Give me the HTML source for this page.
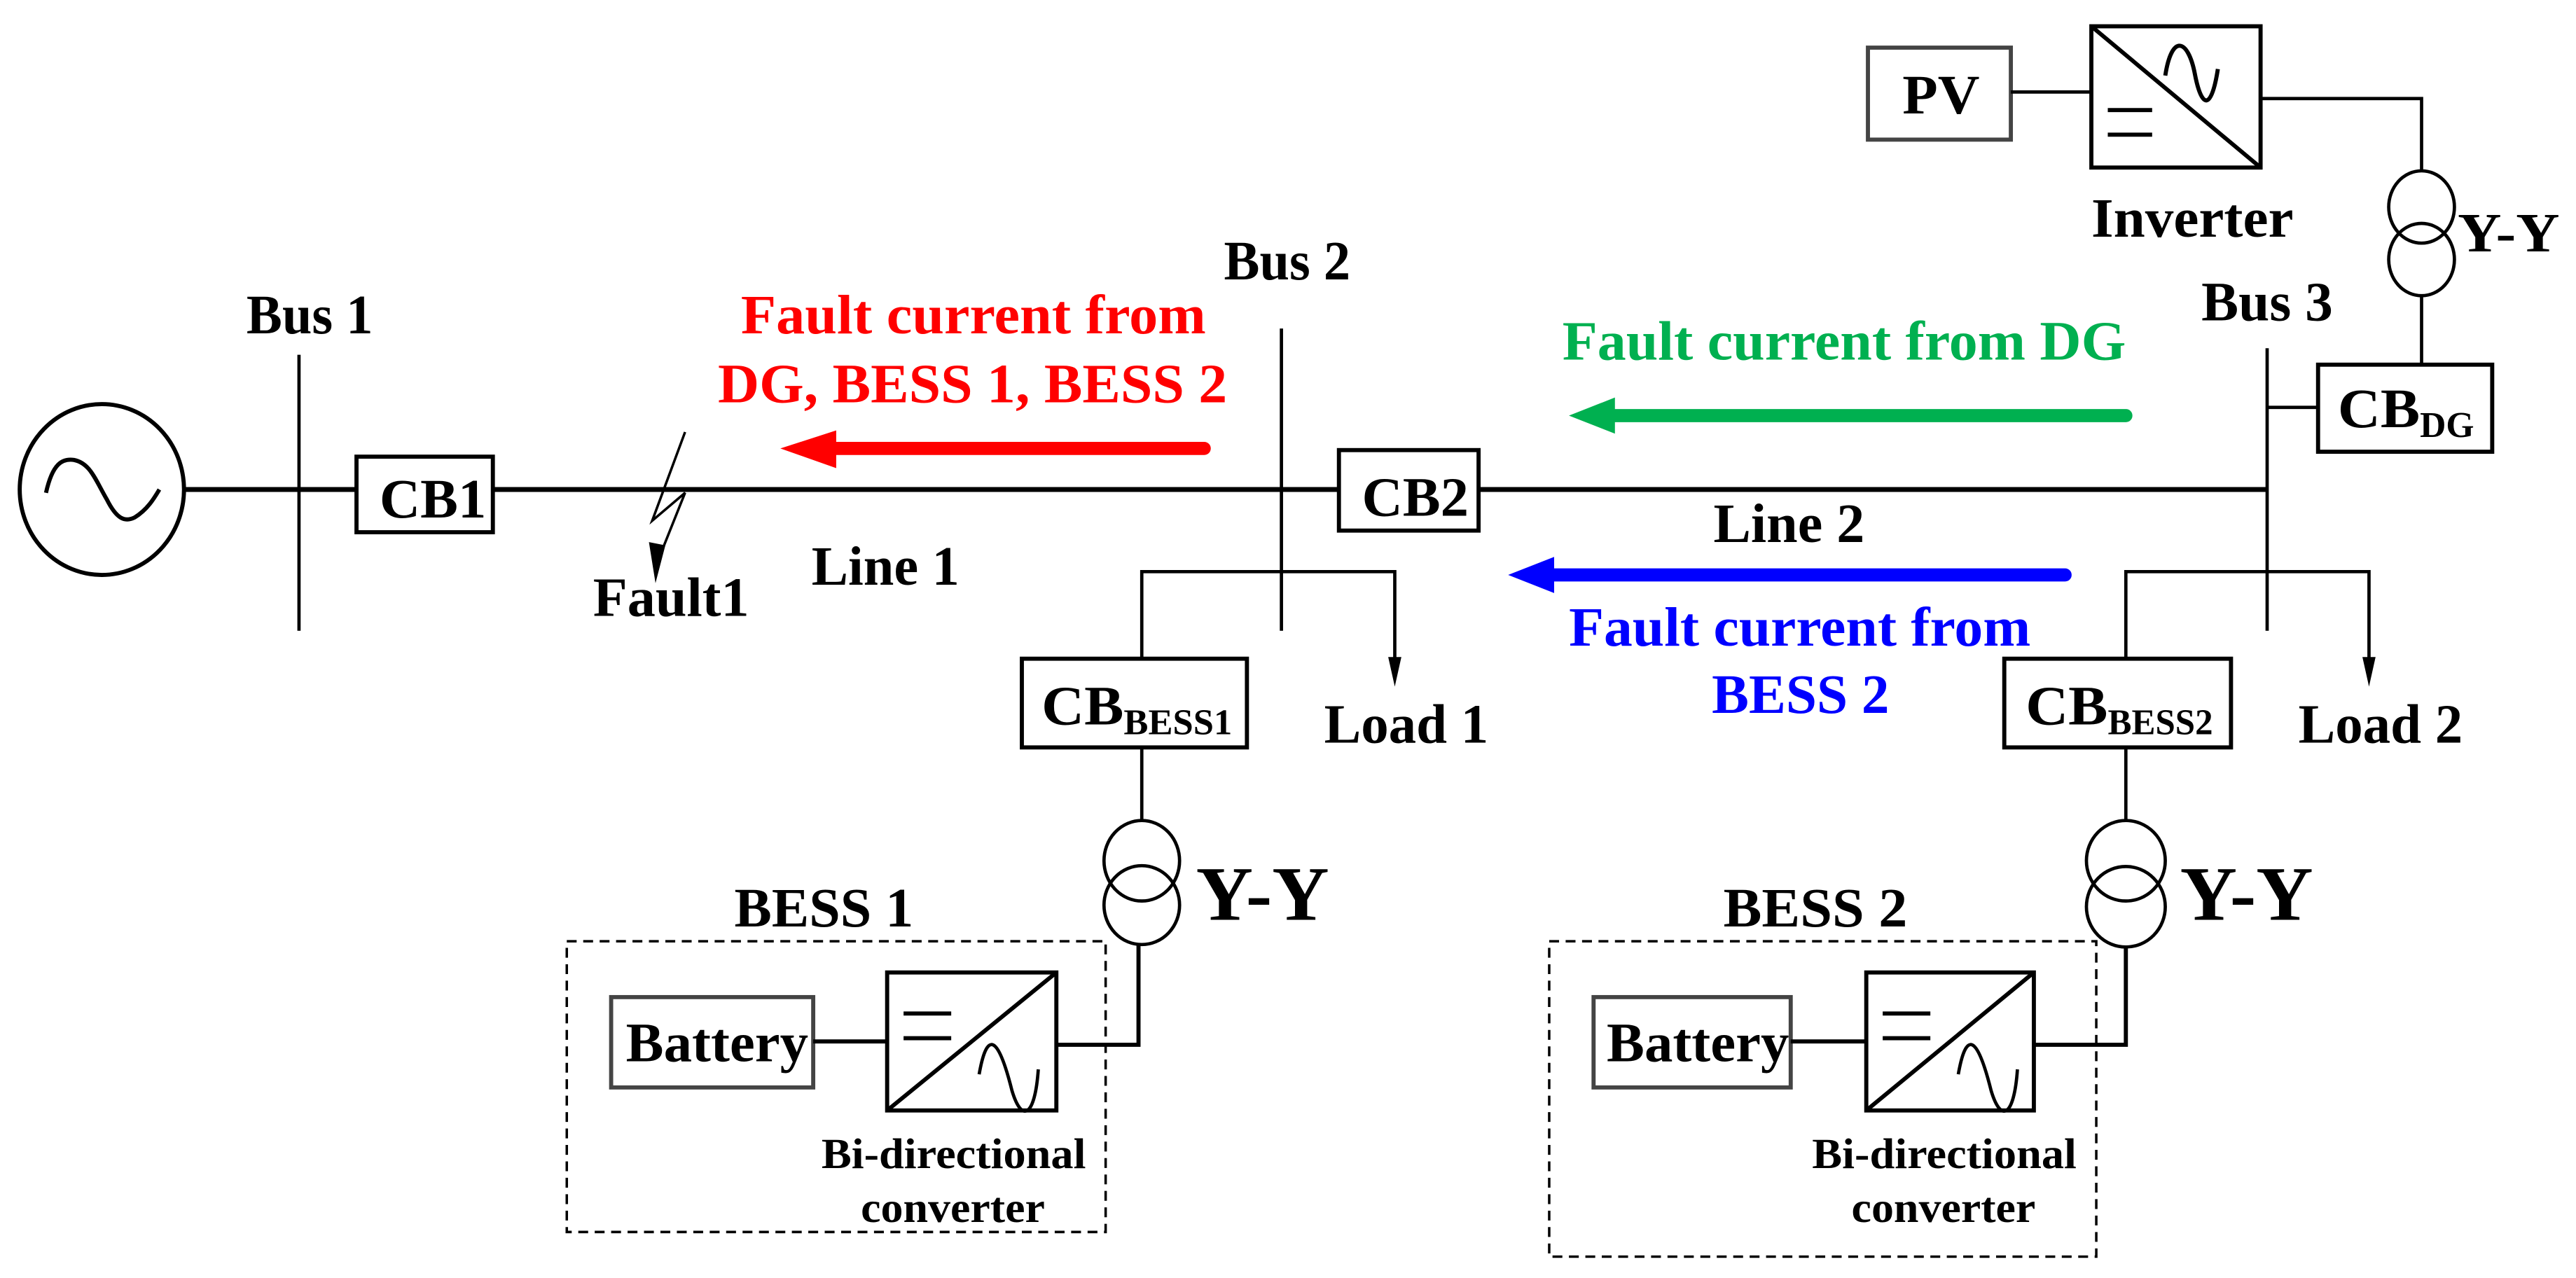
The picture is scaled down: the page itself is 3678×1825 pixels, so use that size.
<!DOCTYPE html>
<html><head><meta charset="utf-8"><style>
html,body{margin:0;padding:0;background:#fff;}
svg{display:block;}
text{font-family:"Liberation Serif",serif;font-weight:bold;}
</style></head><body>
<svg width="3678" height="1825" viewBox="0 0 1568 778" preserveAspectRatio="none" xmlns="http://www.w3.org/2000/svg">
<g fill="none" stroke="#000">
<!-- generator -->
<ellipse cx="62" cy="298" rx="50" ry="52" stroke-width="2.5"/>
<path d="M28,300 C32,282 38,279 45,280 C55,282 58,292 65,304 C71,316 76,318 82,315 C90,310 94,303 97,298" stroke-width="2.5"/>
<!-- main line -->
<line x1="112" y1="298" x2="217" y2="298" stroke-width="3"/>
<line x1="300" y1="298" x2="815" y2="298" stroke-width="3"/>
<line x1="900" y1="298" x2="1380" y2="298" stroke-width="3"/>
<!-- buses -->
<line x1="182" y1="216" x2="182" y2="384" stroke-width="2"/>
<line x1="780" y1="200" x2="780" y2="384" stroke-width="2"/>
<line x1="1380" y1="212" x2="1380" y2="384" stroke-width="2"/>
<!-- CB boxes -->
<rect x="217" y="278" width="83" height="46" stroke-width="2.5"/>
<rect x="815" y="274" width="85" height="49" stroke-width="2.5"/>
<rect x="1411" y="222" width="106" height="53" stroke-width="2.5"/>
<rect x="622" y="401" width="137" height="54" stroke-width="2.5"/>
<rect x="1220" y="401" width="138" height="54" stroke-width="2.5"/>
<!-- fault -->
<polyline points="417,263 397,317 417,300 401,340" stroke-width="1.5"/>
<!-- bus2/bus3 branches -->
<polyline points="695,401 695,348 849,348 849,405" stroke-width="2"/>
<polyline points="1294,401 1294,348 1442,348 1442,405" stroke-width="2"/>
<!-- CB_DG to bus3 -->
<line x1="1380" y1="248" x2="1411" y2="248" stroke-width="2"/>
<polyline points="1474,222 1474,180" stroke-width="2"/>
<polyline points="1474,104 1474,60 1376,60" stroke-width="2"/>
<!-- PV transformer -->
<ellipse cx="1474" cy="126" rx="20" ry="22" stroke-width="2"/>
<ellipse cx="1474" cy="158" rx="20" ry="22" stroke-width="2"/>
<!-- PV & inverter -->
<rect x="1137" y="29" width="87" height="56" stroke="#444" stroke-width="2.5"/>
<line x1="1224" y1="56" x2="1273" y2="56" stroke-width="2"/>
<rect x="1273" y="16" width="103" height="86" stroke-width="2.5"/>
<line x1="1273" y1="16" x2="1376" y2="102" stroke-width="2.5"/>
<path d="M1318,46 C1322,20 1332,24 1336,45 C1340,66 1346,68 1350,42" stroke-width="2.5"/>
<line x1="1283" y1="67" x2="1310" y2="67" stroke-width="2.5"/>
<line x1="1283" y1="82" x2="1310" y2="82" stroke-width="2.5"/>
<!-- BESS1 -->
<line x1="695" y1="455" x2="695" y2="500" stroke-width="2"/>
<ellipse cx="695" cy="524" rx="23" ry="24.5" stroke-width="2"/>
<ellipse cx="695" cy="551" rx="23" ry="24" stroke-width="2"/>
<polyline points="693,575 693,636 643,636" stroke-width="2.5"/>
<rect x="345" y="573" width="328" height="177" stroke-width="1.5" stroke-dasharray="6,4"/>
<rect x="372" y="607" width="123" height="55" stroke="#444" stroke-width="2.5"/>
<line x1="495" y1="634" x2="540" y2="634" stroke-width="2.5"/>
<rect x="540" y="592" width="103" height="84" stroke-width="2.5"/>
<line x1="540" y1="676" x2="643" y2="592" stroke-width="2.5"/>
<line x1="550" y1="617" x2="579" y2="617" stroke-width="2.5"/>
<line x1="550" y1="632" x2="579" y2="632" stroke-width="2.5"/>
<path d="M596,654 C602,620 610,640 616,664 C622,684 630,680 632,651" stroke-width="2"/>
<!-- BESS2 -->
<line x1="1294" y1="455" x2="1294" y2="500" stroke-width="2"/>
<ellipse cx="1294" cy="524" rx="24" ry="24.5" stroke-width="2"/>
<ellipse cx="1294" cy="552" rx="24" ry="24.5" stroke-width="2"/>
<polyline points="1294,577 1294,636 1238,636" stroke-width="2.5"/>
<rect x="943" y="573" width="333" height="192" stroke-width="1.5" stroke-dasharray="6,4"/>
<rect x="970" y="607" width="120" height="55" stroke="#444" stroke-width="2.5"/>
<line x1="1090" y1="634" x2="1136" y2="634" stroke-width="2.5"/>
<rect x="1136" y="592" width="102" height="84" stroke-width="2.5"/>
<line x1="1136" y1="676" x2="1238" y2="592" stroke-width="2.5"/>
<line x1="1146" y1="617" x2="1175" y2="617" stroke-width="2.5"/>
<line x1="1146" y1="632" x2="1175" y2="632" stroke-width="2.5"/>
<path d="M1192,654 C1198,620 1206,640 1212,664 C1218,684 1226,680 1228,651" stroke-width="2"/>
</g>
<!-- arrowheads -->
<polygon points="399,355 395,330 405,332" fill="#000"/>
<polygon points="849,418 845,400 853,400" fill="#000"/>
<polygon points="1442,418 1438,400 1446,400" fill="#000"/>
<!-- colored arrows -->
<line x1="505" y1="273" x2="733" y2="273" stroke="#ff0000" stroke-width="8" stroke-linecap="round"/>
<polygon points="475,273 509,262 509,285" fill="#ff0000"/>
<line x1="983" y1="253" x2="1294" y2="253" stroke="#00b050" stroke-width="8" stroke-linecap="round"/>
<polygon points="955,253 983,242 983,264" fill="#00b050"/>
<line x1="946" y1="350" x2="1257" y2="350" stroke="#0000ff" stroke-width="8" stroke-linecap="round"/>
<polygon points="918,350 946,339 946,361" fill="#0000ff"/>
<!-- labels -->
<g font-size="34" fill="#000" lengthAdjust="spacingAndGlyphs">
<text x="150" y="203" textLength="77" lengthAdjust="spacingAndGlyphs">Bus 1</text>
<text x="745" y="170" textLength="77" lengthAdjust="spacingAndGlyphs">Bus 2</text>
<text x="1340" y="195" textLength="80" lengthAdjust="spacingAndGlyphs">Bus 3</text>
<text x="231" y="315" textLength="65" lengthAdjust="spacingAndGlyphs">CB1</text>
<text x="829" y="314" textLength="65" lengthAdjust="spacingAndGlyphs">CB2</text>
<text x="1423" y="260" textLength="50" lengthAdjust="spacingAndGlyphs">CB</text>
<text x="1473" y="266" font-size="22" textLength="33" lengthAdjust="spacingAndGlyphs">DG</text>
<text x="634" y="441" textLength="50" lengthAdjust="spacingAndGlyphs">CB</text>
<text x="684" y="447" font-size="22" textLength="66" lengthAdjust="spacingAndGlyphs">BESS1</text>
<text x="1233" y="441" textLength="50" lengthAdjust="spacingAndGlyphs">CB</text>
<text x="1283" y="447" font-size="22" textLength="64" lengthAdjust="spacingAndGlyphs">BESS2</text>
<text x="361" y="375" textLength="95" lengthAdjust="spacingAndGlyphs">Fault1</text>
<text x="494" y="356" textLength="90" lengthAdjust="spacingAndGlyphs">Line 1</text>
<text x="1043" y="330" textLength="92" lengthAdjust="spacingAndGlyphs">Line 2</text>
<text x="806" y="452" textLength="100" lengthAdjust="spacingAndGlyphs">Load 1</text>
<text x="1399" y="452" textLength="100" lengthAdjust="spacingAndGlyphs">Load 2</text>
<text x="1273" y="144" textLength="123" lengthAdjust="spacingAndGlyphs">Inverter</text>
<text x="1158" y="69" textLength="47" lengthAdjust="spacingAndGlyphs">PV</text>
<text x="1496" y="153" textLength="62" lengthAdjust="spacingAndGlyphs">Y-Y</text>
<text x="447" y="564" textLength="109" lengthAdjust="spacingAndGlyphs">BESS 1</text>
<text x="1049" y="564" textLength="112" lengthAdjust="spacingAndGlyphs">BESS 2</text>
<text x="381" y="646" textLength="111" lengthAdjust="spacingAndGlyphs">Battery</text>
<text x="978" y="646" textLength="111" lengthAdjust="spacingAndGlyphs">Battery</text>
</g>
<g font-size="47" fill="#000">
<text x="728" y="560" textLength="81" lengthAdjust="spacingAndGlyphs">Y-Y</text>
<text x="1327" y="560" textLength="81" lengthAdjust="spacingAndGlyphs">Y-Y</text>
</g>
<g font-size="26" fill="#000">
<text x="500" y="711" textLength="161" lengthAdjust="spacingAndGlyphs">Bi-directional</text>
<text x="524" y="744" textLength="112" lengthAdjust="spacingAndGlyphs">converter</text>
<text x="1103" y="711" textLength="161" lengthAdjust="spacingAndGlyphs">Bi-directional</text>
<text x="1127" y="744" textLength="112" lengthAdjust="spacingAndGlyphs">converter</text>
</g>
<g font-size="34">
<text x="451" y="203" fill="#ff0000" textLength="283" lengthAdjust="spacingAndGlyphs">Fault current from</text>
<text x="437" y="245" fill="#ff0000" textLength="310" lengthAdjust="spacingAndGlyphs">DG, BESS 1, BESS 2</text>
<text x="951" y="219" fill="#00b050" textLength="343" lengthAdjust="spacingAndGlyphs">Fault current from DG</text>
<text x="955" y="393" fill="#0000ff" textLength="281" lengthAdjust="spacingAndGlyphs">Fault current from</text>
<text x="1042" y="434" fill="#0000ff" textLength="108" lengthAdjust="spacingAndGlyphs">BESS 2</text>
</g>
</svg>
</body></html>
